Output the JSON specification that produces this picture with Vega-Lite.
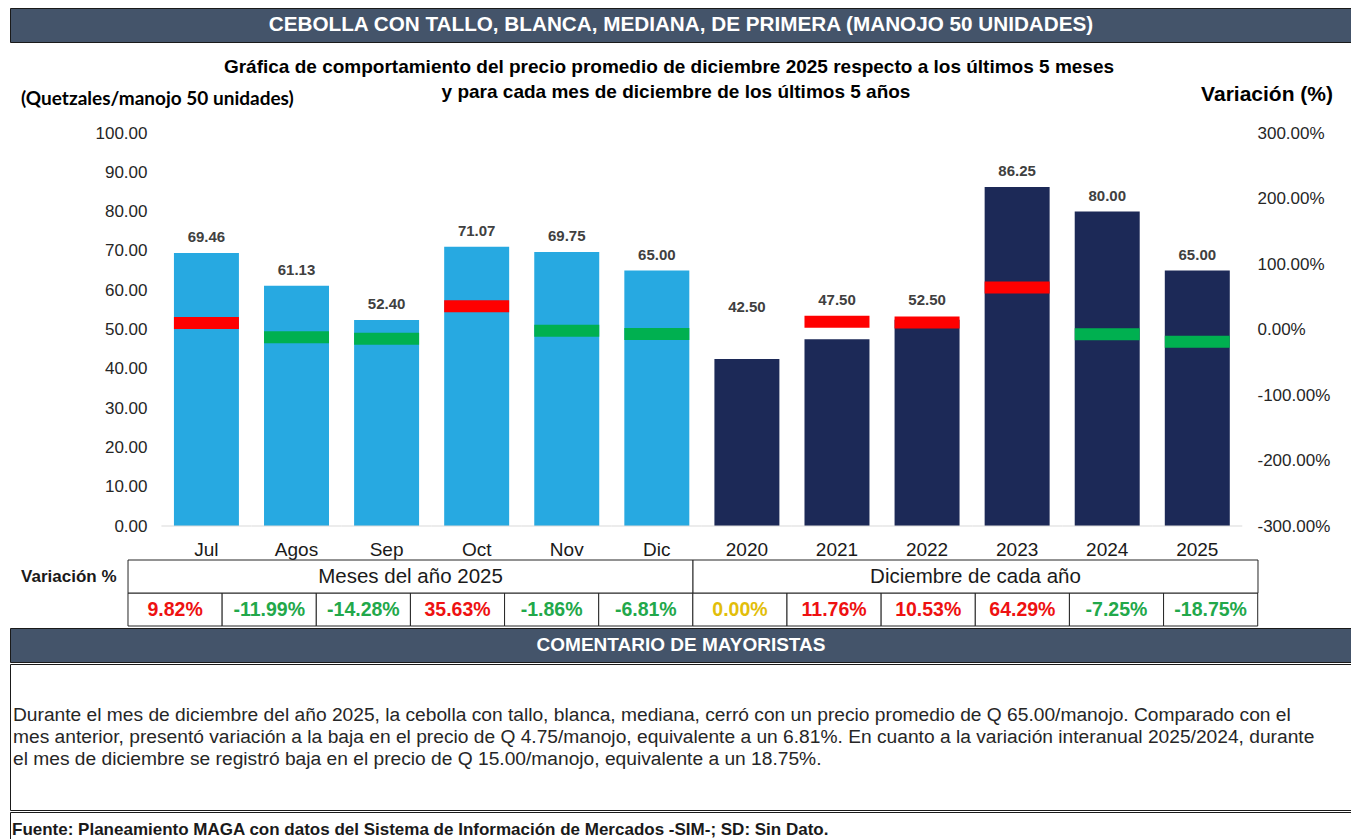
{
  "$schema": "https://vega.github.io/schema/vega-lite/v6.json",
  "background": "white",
  "padding": {"left": 9, "right": 0, "top": 7, "bottom": 0},
  "spacing": 0,
  "config": {"view": {"stroke": null}, "font": "Liberation Sans", "text": {"font": "Liberation Sans"}, "axis": {"labelOverlap": false}},
  "datasets": {
    "main": [
      {"cat": "Jul", "precio": 69.46, "var": 9.82, "grp": "mes"},
      {"cat": "Agos", "precio": 61.13, "var": -11.99, "grp": "mes"},
      {"cat": "Sep", "precio": 52.40, "var": -14.28, "grp": "mes"},
      {"cat": "Oct", "precio": 71.07, "var": 35.63, "grp": "mes"},
      {"cat": "Nov", "precio": 69.75, "var": -1.86, "grp": "mes"},
      {"cat": "Dic", "precio": 65.00, "var": -6.81, "grp": "mes"},
      {"cat": "2020", "precio": 42.50, "var": 0.00, "grp": "anio"},
      {"cat": "2021", "precio": 47.50, "var": 11.76, "grp": "anio"},
      {"cat": "2022", "precio": 52.50, "var": 10.53, "grp": "anio"},
      {"cat": "2023", "precio": 86.25, "var": 64.29, "grp": "anio"},
      {"cat": "2024", "precio": 80.00, "var": -7.25, "grp": "anio"},
      {"cat": "2025", "precio": 65.00, "var": -18.75, "grp": "anio"}
    ],
    "grupos": [
      {"g": "Meses del año  2025"},
      {"g": "Diciembre de cada año"}
    ]
  },
  "vconcat": [
    {
      "width": 1342, "height": 34,
      "view": {"fill": "#44546A", "stroke": "#1a1a1a", "strokeWidth": 1},
      "data": {"values": [{"t": "CEBOLLA CON TALLO, BLANCA, MEDIANA, DE PRIMERA (MANOJO 50 UNIDADES)"}]},
      "mark": {"type": "text", "color": "#ffffff", "fontSize": 20.7, "fontWeight": "bold", "baseline": "middle"},
      "encoding": {"text": {"field": "t", "type": "nominal"}}
    },
    {
      "width": 1342, "height": 81,
      "layer": [
        {
          "data": {"values": [{"t": "Gráfica de comportamiento del precio promedio de diciembre 2025 respecto a los últimos 5 meses"}]},
          "mark": {"type": "text", "fontSize": 19, "fontWeight": "bold", "color": "#000000", "baseline": "middle", "dx": -12, "dy": -16.5},
          "encoding": {"text": {"field": "t", "type": "nominal"}}
        },
        {
          "data": {"values": [{"t": "y para cada mes de diciembre de los últimos 5 años"}]},
          "mark": {"type": "text", "fontSize": 19, "fontWeight": "bold", "color": "#000000", "baseline": "middle", "dx": -5, "dy": 8.5},
          "encoding": {"text": {"field": "t", "type": "nominal"}}
        },
        {
          "data": {"values": [{"t": "(Quetzales/manojo 50 unidades)"}]},
          "mark": {"type": "text", "font": "Lato", "fontSize": 19, "fontWeight": "bold", "color": "#000000", "align": "left", "baseline": "middle", "dx": 11, "dy": 15.5},
          "encoding": {
            "text": {"field": "t", "type": "nominal"},
            "x": {"datum": 0, "type": "quantitative", "scale": {"domain": [0, 1]}, "axis": null}
          }
        },
        {
          "data": {"values": [{"t": "Variación (%)"}]},
          "mark": {"type": "text", "fontSize": 21, "fontWeight": "bold", "color": "#000000", "align": "right", "baseline": "middle", "dx": -19, "dy": 11.5},
          "encoding": {
            "text": {"field": "t", "type": "nominal"},
            "x": {"datum": 1, "type": "quantitative", "scale": {"domain": [0, 1]}, "axis": null}
          }
        }
      ]
    },
    {
      "width": 1236, "height": 393,
      "data": {"name": "main"},
      "transform": [{"calculate": "max(datum.precio, 50 + datum.var / 6 + 1.6)", "as": "lab"}],
      "encoding": {
        "x": {
          "field": "cat", "type": "nominal", "sort": null,
          "scale": {"domain": ["Jul", "Agos", "Sep", "Oct", "Nov", "Dic", "2020", "2021", "2022", "2023", "2024", "2025"], "paddingInner": 0.2786, "paddingOuter": 1, "align": 0.91},
          "axis": {"labelFontSize": 19, "labelColor": "#1a1a1a", "labelPadding": 14, "labelAngle": 0, "domain": false, "ticks": false, "title": null}
        }
      },
      "layer": [
        {
          "layer": [
            {
              "mark": {"type": "bar"},
              "encoding": {
                "y": {
                  "field": "precio", "type": "quantitative", "scale": {"domain": [0, 100], "nice": false},
                  "axis": {"orient": "left", "offset": -151, "values": [0, 10, 20, 30, 40, 50, 60, 70, 80, 90, 100], "tickCount": 11, "format": ".2f", "labelOverlap": false, "labelFontSize": 17, "labelColor": "#262626", "labelPadding": 14, "domain": false, "ticks": false, "grid": false, "title": null}
                },
                "color": {"field": "grp", "type": "nominal", "scale": {"domain": ["mes", "anio"], "range": ["#27A9E1", "#1C2957"]}, "legend": null}
              }
            },
            {
              "mark": {"type": "tick", "size": 90, "thickness": 1, "color": "#d9d9d9", "opacity": 1},
              "encoding": {
                "y": {
                  "datum": 0, "type": "quantitative", "scale": {"domain": [0, 100], "nice": false},
                  "axis": {"orient": "left", "offset": -151, "values": [0, 10, 20, 30, 40, 50, 60, 70, 80, 90, 100], "tickCount": 11, "format": ".2f", "labelOverlap": false, "labelFontSize": 17, "labelColor": "#262626", "labelPadding": 14, "domain": false, "ticks": false, "grid": false, "title": null}
                }
              }
            },
            {
              "mark": {"type": "text", "fontSize": 15, "fontWeight": "bold", "color": "#404040", "baseline": "middle", "dy": -16},
              "encoding": {
                "y": {
                  "field": "lab", "type": "quantitative", "scale": {"domain": [0, 100], "nice": false},
                  "axis": {"orient": "left", "offset": -151, "values": [0, 10, 20, 30, 40, 50, 60, 70, 80, 90, 100], "tickCount": 11, "format": ".2f", "labelOverlap": false, "labelFontSize": 17, "labelColor": "#262626", "labelPadding": 14, "domain": false, "ticks": false, "grid": false, "title": null}
                },
                "text": {"field": "precio", "type": "quantitative", "format": ".2f"}
              }
            }
          ]
        },
        {
          "transform": [{"filter": "datum.var != 0"}],
          "mark": {"type": "tick", "size": 65, "thickness": 12, "opacity": 1},
          "encoding": {
            "y": {
              "field": "var", "type": "quantitative", "scale": {"domain": [-300, 300]},
              "axis": {"orient": "right", "offset": -3, "values": [-300, -200, -100, 0, 100, 200, 300], "labelExpr": "replace(format(datum.value, '.2f'), '\u2212', '-') + '%'", "labelOverlap": false, "labelFontSize": 17, "labelColor": "#262626", "labelPadding": 14, "domain": false, "ticks": false, "grid": false, "title": null}
            },
            "color": {"condition": {"test": "datum.var > 0", "value": "#FF0000"}, "value": "#00B050"}
          }
        }
      ],
      "resolve": {"scale": {"y": "independent"}}
    },
    {
      "width": 1318, "height": 66,
      "layer": [
        {
          "data": {"name": "main"},
          "transform": [{"calculate": "replace(format(datum.var, '.2f'), '\u2212', '-') + '%'", "as": "lbl"}],
          "encoding": {
            "x": {"field": "cat", "type": "nominal", "sort": null, "scale": {"domain": ["Jul", "Agos", "Sep", "Oct", "Nov", "Dic", "2020", "2021", "2022", "2023", "2024", "2025"], "paddingInner": 0, "paddingOuter": 1, "align": 0.6267}, "axis": null}
          },
          "layer": [
            {
              "mark": {"type": "rect", "fill": "#ffffff", "stroke": "#262626", "strokeWidth": 1},
              "encoding": {
                "y": {
                  "datum": "v", "type": "nominal", "scale": {"domain": ["g", "v"], "paddingInner": 0, "paddingOuter": 0},
                  "axis": {"orient": "left", "offset": -111, "labelExpr": "datum.value == 'g' ? 'Variación %' : ''", "labelFontSize": 17, "labelFontWeight": "bold", "labelColor": "#1a1a1a", "labelPadding": 5, "domain": false, "ticks": false, "title": null}
                }
              }
            },
            {
              "mark": {"type": "text", "fontSize": 19.5, "fontWeight": "bold", "baseline": "middle"},
              "encoding": {
                "y": {"datum": "v", "type": "nominal"},
                "text": {"field": "lbl", "type": "nominal"},
                "color": {"condition": [{"test": "datum.var > 0", "value": "#EE1111"}, {"test": "datum.var < 0", "value": "#22A84A"}], "value": "#E2BE0A"}
              }
            }
          ]
        },
        {
          "data": {"name": "grupos"},
          "encoding": {
            "x": {"field": "g", "type": "nominal", "sort": null, "scale": {"domain": ["Meses del año  2025", "Diciembre de cada año"], "paddingInner": 0, "paddingOuter": 0.1664, "align": 0.6277}, "axis": null},
            "y": {"datum": "g", "type": "nominal"}
          },
          "layer": [
            {"mark": {"type": "rect", "fill": "#ffffff", "stroke": "#262626", "strokeWidth": 1}},
            {
              "mark": {"type": "text", "fontSize": 20.5, "color": "#1a1a1a", "baseline": "middle"},
              "encoding": {"text": {"field": "g", "type": "nominal"}}
            }
          ]
        }
      ],
      "resolve": {"scale": {"x": "independent"}}
    },
    {
      "width": 1342, "height": 34,
      "view": {"fill": "#44546A", "stroke": "#1a1a1a", "strokeWidth": 1},
      "data": {"values": [{"t": "COMENTARIO DE MAYORISTAS"}]},
      "mark": {"type": "text", "color": "#ffffff", "fontSize": 19, "fontWeight": "bold", "baseline": "middle"},
      "encoding": {"text": {"field": "t", "type": "nominal"}}
    },
    {
      "width": 1342, "height": 146,
      "view": {"stroke": "#1a1a1a", "strokeWidth": 1},
      "data": {"values": [{"t": "Durante el mes de diciembre del año 2025, la cebolla con tallo, blanca, mediana, cerró con un precio promedio de Q 65.00/manojo. Comparado con el\nmes anterior, presentó variación a la baja en el precio de Q 4.75/manojo, equivalente a un 6.81%. En cuanto a la variación interanual 2025/2024, durante\nel mes de diciembre se registró baja en el precio de Q 15.00/manojo, equivalente a un 18.75%."}]},
      "mark": {"type": "text", "align": "left", "baseline": "middle", "fontSize": 19.2, "lineHeight": 22, "lineBreak": "\n", "color": "#262626", "dx": 3, "dy": -22},
      "encoding": {
        "text": {"field": "t", "type": "nominal"},
        "x": {"datum": 0, "type": "quantitative", "scale": {"domain": [0, 1]}, "axis": null}
      }
    },
    {
      "width": 1342, "height": 31,
      "view": {"stroke": "#1a1a1a", "strokeWidth": 1},
      "data": {"values": [{"t": "Fuente: Planeamiento MAGA con datos del  Sistema de Información de Mercados -SIM-; SD: Sin Dato."}]},
      "mark": {"type": "text", "align": "left", "baseline": "middle", "fontSize": 17, "fontWeight": "bold", "color": "#1a1a1a", "dx": 2, "dy": 2},
      "encoding": {
        "text": {"field": "t", "type": "nominal"},
        "x": {"datum": 0, "type": "quantitative", "scale": {"domain": [0, 1]}, "axis": null}
      }
    }
  ]
}
